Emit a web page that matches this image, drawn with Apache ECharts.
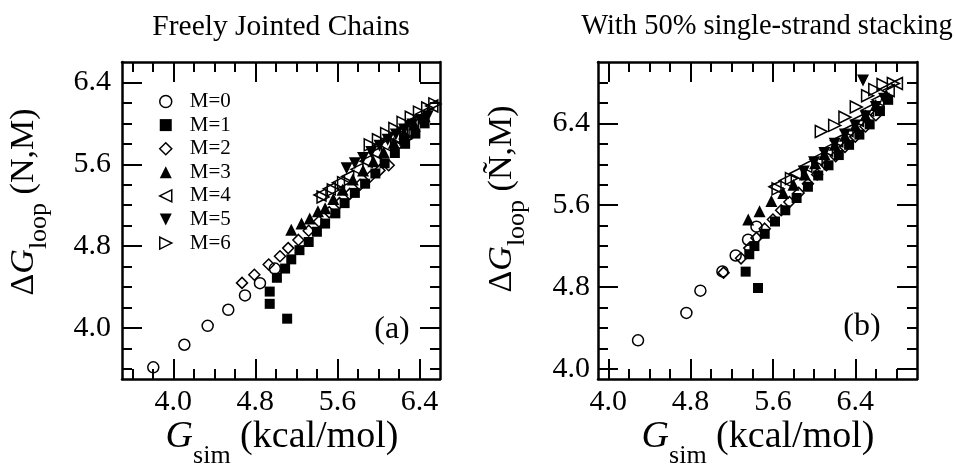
<!DOCTYPE html>
<html><head><meta charset="utf-8">
<script src="https://cdn.jsdelivr.net/npm/echarts@6/dist/echarts.min.js"></script>
<style>html,body{margin:0;padding:0;background:#fff}#c{width:955px;height:466px}</style>
</head><body><div id="c"></div>
<script>
// ---------- data ----------
const seriesNames = ['M=0','M=1','M=2','M=3','M=4','M=5','M=6'];

// Panel (a): Freely Jointed Chains  [G_sim, dG_loop]
const a_M0 = [[3.805,3.614],[4.108,3.835],[4.335,4.02],[4.536,4.177],[4.699,4.317],[4.845,4.437],[4.99,4.58]];
const a_M1 = [[5.11,4.09],[4.94,4.235],[4.94,4.355],[5.01,4.49],[5.09,4.58],[5.15,4.67],[5.23,4.76],[5.32,4.84],[5.40,4.94],[5.48,5.02],[5.58,5.12],[5.67,5.22],[5.77,5.32],[5.87,5.41],[5.97,5.51],[6.06,5.61],[6.16,5.71],[6.26,5.80],[6.36,5.90],[6.45,6.0]];
const a_M2 = [[4.67,4.44],[4.79,4.52],[4.93,4.62],[5.04,4.70],[5.12,4.78],[5.22,4.86],[5.32,4.95],[5.42,5.04],[5.52,5.13],[5.62,5.22],[5.72,5.31],[5.82,5.40],[5.92,5.48],[6.01,5.54],[6.10,5.59]];
const a_M3 = [[5.15,4.96],[5.25,5.02],[5.33,5.07],[5.41,5.14],[5.48,5.17],[5.56,5.26],[5.65,5.35],[5.75,5.45],[5.85,5.54],[5.95,5.63],[6.05,5.72],[6.15,5.81],[6.25,5.90],[6.35,5.99],[6.45,6.07]];
const a_M4 = [[5.43,5.30],[5.52,5.36],[5.61,5.42],[5.70,5.48],[5.79,5.55],[5.88,5.63],[5.97,5.71],[6.06,5.79],[6.15,5.87],[6.24,5.94],[6.33,6.02],[6.42,6.09],[6.52,6.17]];
const a_M5 = [[5.69,5.56],[5.77,5.61],[5.85,5.66],[5.93,5.72],[6.01,5.78],[6.09,5.84],[6.17,5.89],[6.25,5.94],[6.33,5.99],[6.41,6.03],[6.48,6.07]];
const a_M6 = [[5.46,5.28],[5.56,5.35],[5.66,5.42],[5.92,5.79],[6.00,5.84],[6.08,5.90],[6.16,5.95],[6.24,6.01],[6.32,6.06],[6.40,6.11],[6.48,6.15],[6.55,6.19],[6.19,5.78],[6.27,5.85],[6.34,5.92]];

// Panel (b): With 50% single-strand stacking
const b_M0 = [[4.289,4.278],[4.759,4.546],[4.895,4.764],[5.109,4.952],[5.238,5.108],[5.358,5.262],[5.44,5.39]];
const b_M1 = [[5.455,4.79],[5.335,4.95],[5.37,5.12],[5.42,5.20],[5.52,5.32],[5.62,5.44],[5.72,5.55],[5.83,5.67],[5.94,5.78],[6.04,5.89],[6.14,5.99],[6.24,6.09],[6.34,6.19],[6.44,6.29],[6.54,6.39],[6.64,6.52],[6.72,6.63]];
const b_M2 = [[5.12,4.94],[5.29,5.08],[5.37,5.18],[5.44,5.28],[5.52,5.37],[5.60,5.46],[5.68,5.55],[5.76,5.63],[5.85,5.72],[5.94,5.81],[6.03,5.90],[6.12,5.99],[6.21,6.08],[6.30,6.17],[6.40,6.27],[6.50,6.37],[6.60,6.48]];
const b_M3 = [[5.36,5.46],[5.47,5.54],[5.585,5.64],[5.70,5.72],[5.80,5.80],[5.91,5.90],[6.01,6.01],[6.10,6.10],[6.20,6.19],[6.30,6.28],[6.40,6.38],[6.50,6.48],[6.60,6.58],[6.70,6.68]];
const b_M4 = [[5.62,5.78],[5.72,5.84],[5.82,5.91],[5.92,5.98],[6.02,6.05],[6.12,6.14],[6.22,6.23],[6.32,6.33],[6.42,6.43],[6.52,6.53],[6.62,6.63],[6.72,6.72],[6.80,6.79]];
const b_M5 = [[6.475,6.82],[5.90,5.93],[6.00,6.02],[6.10,6.11],[6.20,6.20],[6.30,6.29],[6.40,6.38],[6.50,6.47],[6.60,6.56],[6.68,6.64]];
const b_M6 = [[5.65,5.76],[5.78,5.86],[6.07,6.32],[6.20,6.38],[6.30,6.46],[6.41,6.56],[6.52,6.67],[6.59,6.73],[6.67,6.78],[6.77,6.79]];

// axis ranges and ticks
const rangeA = [3.5, 6.6];
const rangeB = [3.9, 7.0];
const majorTicks = [4.0, 4.8, 5.6, 6.4];
const minorTicksA = [3.6, 3.8, 4.2, 4.4, 4.6, 5.0, 5.2, 5.4, 5.8, 6.0, 6.2];
const minorTicksB = [4.2, 4.4, 4.6, 5.0, 5.2, 5.4, 5.8, 6.0, 6.2, 6.6, 6.8];

const titleA = 'Freely Jointed Chains';
const titleB = 'With 50% single-strand stacking';
const panelTagA = '(a)';
const panelTagB = '(b)';

// ---------- styling ----------
const FONT = 'Liberation Serif';
const TRI_LEFT = 'path://M0,5L10,0L10,10Z';
const TRI_DOWN = 'path://M0,0L10,0L5,10Z';
const TRI_RIGHT = 'path://M0,0L10,5L0,10Z';
const symbolDefs = [
  {symbol:'circle',   size:11, open:true},
  {symbol:'rect',     size:10, open:false},
  {symbol:'diamond',  size:11, open:true},
  {symbol:'triangle', size:12, open:false},
  {symbol:TRI_LEFT,   size:12, open:true},
  {symbol:TRI_DOWN,   size:12, open:false},
  {symbol:TRI_RIGHT,  size:12, open:true}
];

function buildAxes(dim, grid, range, major, minor, labelMargin) {
  const mainPos = dim === 'x' ? 'bottom' : 'left';
  const mirPos = dim === 'x' ? 'top' : 'right';
  const base = {gridIndex: grid, type: 'value', min: range[0], max: range[1],
    splitLine: {show: false}, minorTick: {show: false}, scale: true};
  const lineOn = {show: true, onZero: false, lineStyle: {color: '#000', width: 2.5}};
  const tickStyle = {color: '#000', width: 2};
  return [
    Object.assign({}, base, {position: mainPos, axisLine: lineOn,
      axisTick: {show: true, inside: true, length: 20, customValues: major, lineStyle: tickStyle},
      axisLabel: {show: true, customValues: major, formatter: v => Number(v).toFixed(1),
        margin: labelMargin, color: '#000', fontSize: 30, fontFamily: FONT}}),
    Object.assign({}, base, {position: mainPos, axisLine: {show: false},
      axisTick: {show: true, inside: true, length: 10, customValues: minor, lineStyle: tickStyle},
      axisLabel: {show: false}}),
    Object.assign({}, base, {position: mirPos, axisLine: lineOn,
      axisTick: {show: true, inside: true, length: 20, customValues: major, lineStyle: tickStyle},
      axisLabel: {show: false}}),
    Object.assign({}, base, {position: mirPos, axisLine: {show: false},
      axisTick: {show: true, inside: true, length: 10, customValues: minor, lineStyle: tickStyle},
      axisLabel: {show: false}})
  ];
}

function styleFor(i) {
  return symbolDefs[i].open
    ? {color: 'rgba(0,0,0,0)', borderColor: '#000', borderWidth: 1.5, opacity: 1}
    : {color: '#000', borderColor: '#000', borderWidth: 0, opacity: 1};
}

function buildSeries(datasets, axisIndex) {
  return datasets.map((d, i) => {
    const s = symbolDefs[i];
    return {
      name: seriesNames[i], type: 'scatter', data: d,
      xAxisIndex: axisIndex, yAxisIndex: axisIndex,
      symbol: s.symbol, symbolSize: s.size,
      itemStyle: styleFor(i),
      emphasis: {disabled: true}, animation: false
    };
  });
}

const subStyle = {fontFamily: FONT, fontSize: 26, lineHeight: 26, verticalAlign: 'bottom', color: '#000'};
function richTitle(size, lh) {
  return {
    d: {fontFamily: FONT, fontSize: size, lineHeight: lh, color: '#000'},
    g: {fontFamily: FONT, fontSize: size, lineHeight: lh, fontStyle: 'italic', color: '#000'},
    s: subStyle,
    t: {fontFamily: FONT, fontSize: size, lineHeight: lh, color: '#000'}
  };
}

function textEl(x, y, text, size, rot, rich) {
  const st = {text: text, fill: '#000', font: size + 'px "' + FONT + '"',
    align: 'center', verticalAlign: 'middle', textAlign: 'center', textVerticalAlign: 'middle'};
  if (rich) st.rich = rich;
  return {type: 'text', x: x, y: y, rotation: rot || 0, style: st, silent: true};
}

const chart = echarts.init(document.getElementById('c'), null, {renderer: 'canvas'});
const option = {
  animation: false,
  backgroundColor: '#fff',
  grid: [
    {left: 122, top: 62, width: 318, height: 317},
    {left: 598, top: 62, width: 319, height: 317}
  ],
  xAxis: [].concat(buildAxes('x', 0, rangeA, majorTicks, minorTicksA, 8),
                   buildAxes('x', 1, rangeB, majorTicks, minorTicksB, 8)),
  yAxis: [].concat(buildAxes('y', 0, rangeA, majorTicks, minorTicksA, 11),
                   buildAxes('y', 1, rangeB, majorTicks, minorTicksB, 8)),
  legend: {
    orient: 'vertical', left: 159, top: 91, padding: 0,
    itemWidth: 12, itemHeight: 12, itemGap: 2.6, selectedMode: false,
    data: seriesNames.map((n, i) => ({name: n, icon: symbolDefs[i].symbol, itemStyle: styleFor(i)})),
    textStyle: {fontFamily: FONT, fontSize: 21, lineHeight: 21, color: '#000', padding: [0, 0, 0, 13]}
  },
  series: [].concat(
    buildSeries([a_M0, a_M1, a_M2, a_M3, a_M4, a_M5, a_M6], 0),
    buildSeries([b_M0, b_M1, b_M2, b_M3, b_M4, b_M5, b_M6], 4)
  ),
  graphic: [
    textEl(281, 27, titleA, 29.5),
    textEl(767, 27, titleB, 28.5),
    textEl(392, 330, panelTagA, 32),
    textEl(862, 327, panelTagB, 32),
    textEl(282, 437, '{g|G}{s|sim}{t| (kcal/mol)}', 38, 0, richTitle(38, 64)),
    textEl(758, 437, '{g|G}{s|sim}{t| (kcal/mol)}', 38, 0, richTitle(38, 64)),
    textEl(24, 202, '{d|Δ}{g|G}{s|loop}{t| (N,M)}', 34, Math.PI / 2, richTitle(34, 56)),
    textEl(502, 199, '{d|Δ}{g|G}{s|loop}{t| (Ñ,M)}', 34, Math.PI / 2, richTitle(34, 56))
  ]
};
chart.setOption(option);
</script></body></html>
